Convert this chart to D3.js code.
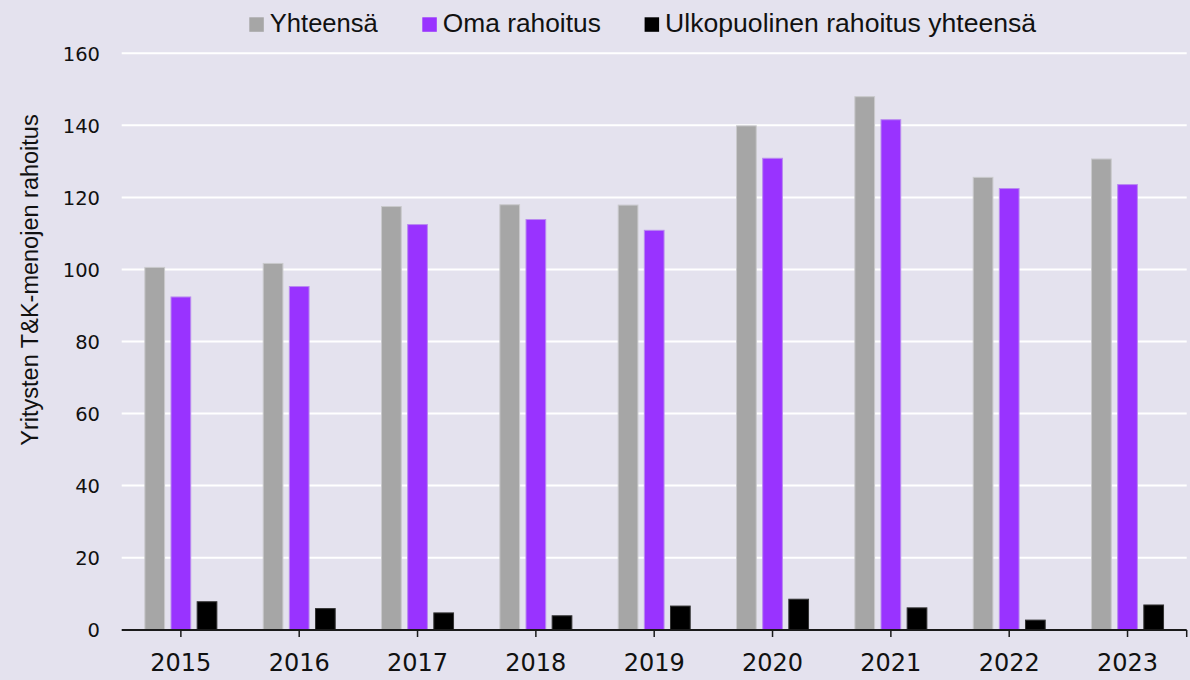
<!DOCTYPE html>
<html>
<head>
<meta charset="utf-8">
<script src="https://cdn.jsdelivr.net/npm/d3@7"></script>
<style>
  html, body { margin: 0; padding: 0; background: #E4E2EE; }
  svg { display: block; }
</style>
</head>
<body>
<svg id="chart" width="1190" height="680"></svg>
<script>
const years = ["2015","2016","2017","2018","2019","2020","2021","2022","2023"];
const seriesNames = ["Yhteensä", "Oma rahoitus", "Ulkopuolinen rahoitus yhteensä"];
const yhteensa = [100.7, 101.8, 117.6, 118.1, 118.0, 140.0, 148.1, 125.7, 130.8];
const omaRahoitus = [92.5, 95.4, 112.6, 114.0, 111.0, 131.0, 141.7, 122.6, 123.7];
const ulkopuolinen = [7.9, 6.0, 4.8, 4.0, 6.7, 8.6, 6.2, 2.8, 7.0];
const yTicks = [0, 20, 40, 60, 80, 100, 120, 140, 160];
const yLabel = "Yritysten T&K-menojen rahoitus";

(function () {
const colors = ["#A6A6A6", "#9933FF", "#000000"];
const strokes = ["#C9C9CC", "#B98AF0", "#333333"];
const seriesValues = [yhteensa, omaRahoitus, ulkopuolinen];

const svg = d3.select("#chart");
svg.append("rect").attr("width", 1190).attr("height", 680).attr("fill", "#E4E2EE");

const pLeft = 121.7, pRight = 1186.7, pTop = 53.3, pBottom = 629.7;

const x = d3.scaleBand().domain(years).range([pLeft, pRight]).paddingInner(0).paddingOuter(0);
const groupW = 73;
const xs = d3.scaleBand().domain(seriesNames).range([0, groupW]).paddingInner(0.208).paddingOuter(0);
const y = d3.scaleLinear().domain([0, 160]).range([pBottom, pTop]);

// gridlines
svg.append("g").selectAll("line").data(yTicks.filter(d => d > 0)).join("line")
  .attr("x1", pLeft).attr("x2", pRight)
  .attr("y1", d => y(d)).attr("y2", d => y(d))
  .attr("stroke", "#FFFFFF").attr("stroke-width", 2);

// y tick labels
svg.append("g").selectAll("text").data(yTicks).join("text")
  .attr("x", 100).attr("y", d => y(d)).attr("dy", "0.37em")
  .attr("text-anchor", "end")
  .attr("font-family", "DejaVu Sans, sans-serif").attr("font-size", 19.5)
  .attr("fill", "#111").text(d => d);

// bars
seriesNames.forEach((name, si) => {
  svg.append("g").selectAll("rect").data(years).join("rect")
    .attr("x", d => x(d) + x.bandwidth() / 2 - groupW / 2 + xs(name) + 0.5)
    .attr("width", xs.bandwidth() - 1)
    .attr("y", (d, i) => y(seriesValues[si][i]) + 0.5)
    .attr("height", (d, i) => y(0) - y(seriesValues[si][i]) - 0.5)
    .attr("fill", colors[si])
    .attr("stroke", strokes[si]).attr("stroke-width", 1);
});

// x axis line
svg.append("line").attr("x1", pLeft).attr("x2", pRight).attr("y1", 630).attr("y2", 630)
  .attr("stroke", "#1a1a1a").attr("stroke-width", 2);
const tickXs = years.map(d => x(d) + x.bandwidth() / 2).concat([pRight]);
svg.append("g").selectAll("line").data(tickXs).join("line")
  .attr("x1", d => d).attr("x2", d => d).attr("y1", 630).attr("y2", 637)
  .attr("stroke", "#1a1a1a").attr("stroke-width", 1.5);

// x labels
svg.append("g").selectAll("text").data(years).join("text")
  .attr("x", d => x(d) + x.bandwidth() / 2).attr("y", 671)
  .attr("text-anchor", "middle")
  .attr("font-family", "DejaVu Sans, sans-serif").attr("font-size", 24)
  .attr("fill", "#111").text(d => d);

// y axis label
svg.append("text")
  .attr("transform", "translate(38,280) rotate(-90)")
  .attr("text-anchor", "middle")
  .attr("font-family", "Liberation Sans, Arial, sans-serif").attr("font-size", 23.5)
  .attr("fill", "#111").text(yLabel);

// legend
const legendX = [249.3, 422.3, 644.6];
const legendTextW = [108, 158, 371];
const lg = svg.append("g");
seriesNames.forEach((name, i) => {
  lg.append("rect").attr("x", legendX[i]).attr("y", 17.3).attr("width", 14.5).attr("height", 14.5)
    .attr("fill", colors[i]);
  lg.append("text").attr("x", legendX[i] + 20.5).attr("y", 32.3)
    .attr("font-family", "Liberation Sans, Arial, sans-serif").attr("font-size", 25)
    .attr("textLength", legendTextW[i]).attr("lengthAdjust", "spacingAndGlyphs")
    .attr("fill", "#111").text(name);
});
})();
</script>
</body>
</html>
